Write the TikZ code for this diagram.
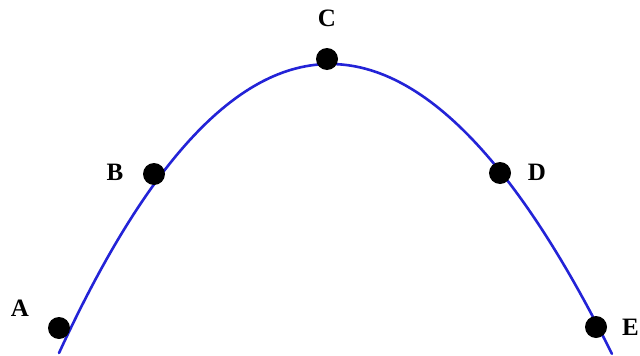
\documentclass[tikz,border=0pt]{standalone}
\usepackage{fontspec}
\setmainfont{Liberation Serif}
\begin{document}
\begin{tikzpicture}[x=1pt,y=-1pt,
  curveline/.style={draw={rgb,255:red,35;green,35;blue,215},line width=2.6pt,line cap=round},
  ptdot/.style={circle,fill=black,inner sep=0pt,minimum size=22pt},
  ptlabel/.style={font=\fontsize{25}{30}\selectfont\bfseries,inner sep=0pt}]
\useasboundingbox[fill=white] (0,0) rectangle (640,356);
\draw[curveline] plot[domain=-2.71:2.82,samples=120,variable=\u]
  ({330+100*\u},{64+37.94*\u*\u-0.522*\u*\u*\u});
\node[ptdot] (a) at (59,328) {};
\node[ptdot] (b) at (154,174) {};
\node[ptdot] (c) at (327,59) {};
\node[ptdot] (d) at (500,173) {};
\node[ptdot] (e) at (596,327) {};
\node[ptlabel] (la) at (20,308) {A};
\node[ptlabel] (lb) at (115,172) {B};
\node[ptlabel] (lc) at (327,18) {C};
\node[ptlabel] (ld) at (537,172) {D};
\node[ptlabel,anchor=west] (le) at (622,327) {E};
\end{tikzpicture}
\end{document}
